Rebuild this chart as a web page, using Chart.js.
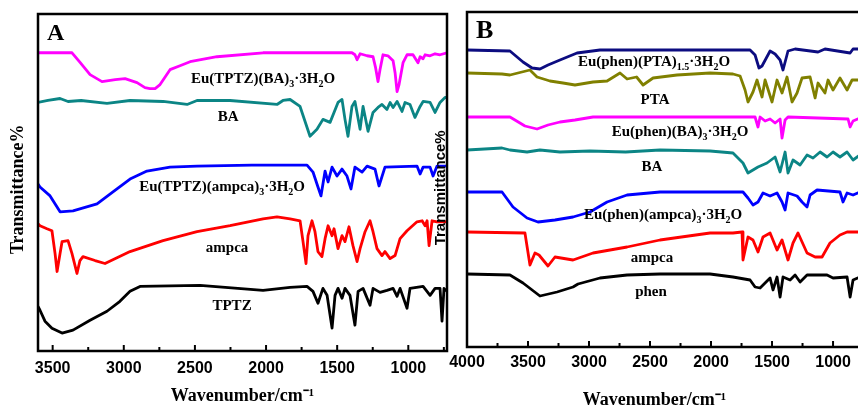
<!DOCTYPE html>
<html lang="en">
<head>
<meta charset="UTF-8" />
<title>FTIR spectra A / B</title>
<style>
  html, body { margin: 0; padding: 0; background: #fff; overflow: hidden; width: 858px; height: 405px; }
  canvas { position: absolute; top: 0; }
  #chartA { left: 0; }
  #chartB { left: 420px; }
</style>
</head>
<body>
<canvas id="chartA" width="452" height="405"></canvas>
<canvas id="chartB" width="445" height="409"></canvas>

<script src="https://cdn.jsdelivr.net/npm/chart.js"></script>
<script>
  const SANS = "'Liberation Sans', Arial, sans-serif";
  const SERIF = "'Liberation Serif', 'Times New Roman', serif";

  // ---- panel A (wavenumber, offset transmittance in a.u.) ----
  const ticksA = [3500, 3250, 3000, 2750, 2500, 2250, 2000, 1750, 1500, 1250, 1000, 750];

  const aEuBA_x = [3603, 3364, 3306, 3237, 3153, 3060, 2991, 2907, 2851, 2816, 2780, 2745, 2675, 2605, 2534, 2345, 2021, 1396, 1375, 1360, 1339, 1290, 1248, 1230, 1213, 1199, 1185, 1178, 1143, 1107, 1093, 1079, 1065, 1037, 1009, 967, 932, 917, 896, 882, 847, 812, 777, 728];
  const aEuBA_y = [300, 300, 290, 278, 271, 273, 274, 270, 265, 264, 264, 268, 283, 287, 291, 296, 300, 300, 298, 293, 299, 297, 296, 285, 271, 283, 293, 298, 297, 292, 280, 261, 268, 290, 298, 298, 290, 296, 294, 298, 297, 299, 298, 300];

  const aBA_x = [3603, 3533, 3448, 3392, 3300, 3118, 2956, 2724, 2555, 2485, 2253, 1923, 1881, 1831, 1761, 1691, 1642, 1600, 1550, 1494, 1466, 1445, 1424, 1396, 1375, 1339, 1318, 1283, 1248, 1213, 1185, 1150, 1128, 1107, 1079, 1044, 1023, 988, 953, 917, 896, 847, 812, 777, 742, 728];
  const aBA_y = [250, 252, 254, 251, 252, 249, 252, 251, 248, 252, 252, 248, 252, 253, 246, 216, 223, 233, 230, 250, 253, 233, 216, 246, 251, 223, 246, 221, 240, 245, 248, 243, 250, 245, 251, 241, 250, 248, 235, 246, 251, 250, 240, 250, 255, 255];

  const aEuAmpca_x = [3603, 3589, 3518, 3448, 3357, 3188, 3076, 2956, 2837, 2675, 2485, 2100, 1712, 1670, 1635, 1614, 1585, 1564, 1536, 1501, 1466, 1431, 1403, 1375, 1325, 1290, 1234, 1206, 1164, 939, 917, 896, 847, 826, 798, 728];
  const aEuAmpca_y = [168, 165, 156, 140, 141, 148, 160, 173, 181, 185, 186, 187, 187, 180, 165, 156, 181, 170, 185, 176, 183, 176, 163, 185, 180, 186, 183, 166, 185, 186, 178, 185, 185, 176, 186, 186];

  const aAmpca_x = [3603, 3589, 3540, 3505, 3483, 3469, 3448, 3434, 3392, 3364, 3329, 3308, 3287, 3202, 3132, 2956, 2724, 2485, 2253, 2021, 1923, 1831, 1761, 1740, 1719, 1705, 1677, 1656, 1635, 1607, 1585, 1564, 1536, 1522, 1494, 1466, 1445, 1417, 1389, 1360, 1339, 1304, 1269, 1248, 1220, 1185, 1164, 1128, 1093, 1058, 1009, 939, 903, 882, 868, 854, 833, 798, 728];
  const aAmpca_y = [128, 126, 123, 121, 98, 80, 98, 110, 111, 98, 78, 91, 95, 91, 88, 100, 111, 120, 126, 133, 135, 133, 131, 110, 88, 116, 131, 120, 100, 95, 113, 126, 116, 123, 103, 116, 110, 125, 106, 90, 103, 120, 131, 120, 103, 96, 100, 93, 96, 113, 121, 130, 131, 126, 131, 106, 131, 130, 130];

  const aTPTZ_x = [3603, 3589, 3554, 3505, 3434, 3357, 3237, 3118, 3027, 2956, 2886, 2464, 2021, 1831, 1712, 1670, 1635, 1600, 1571, 1536, 1515, 1494, 1466, 1445, 1410, 1375, 1353, 1318, 1269, 1248, 1199, 1150, 1107, 1079, 1058, 1009, 988, 896, 847, 812, 777, 763, 749, 728];
  const aTPTZ_y = [45, 41, 30, 23, 18, 21, 31, 40, 50, 60, 65, 66, 61, 64, 65, 60, 48, 63, 56, 23, 56, 63, 53, 63, 56, 26, 60, 63, 46, 63, 59, 61, 63, 55, 63, 43, 63, 65, 56, 63, 63, 30, 63, 60];

  const labelsA = ['Eu(TPTZ)(BA)_{3}·3H_{2}O', 'BA', 'Eu(TPTZ)(ampca)_{3}·3H_{2}O', 'ampca', 'TPTZ'];
  const labelsA_x = [2021, 2267, 2309, 2274, 2239];
  const labelsA_y = [273, 235, 165, 103, 45];

  // ---- panel B ----
  const ticksB = [4000, 3750, 3500, 3250, 3000, 2750, 2500, 2250, 2000, 1750, 1500, 1250, 1000];

  const bEuPTA_x = [4000, 3648, 3541, 3467, 3402, 3336, 3238, 3098, 2910, 1680, 1639, 1607, 1582, 1516, 1475, 1434, 1410, 1369, 1311, 1123, 1066, 860, 836, 779];
  const bEuPTA_y = [297, 296, 285, 279, 278, 282, 287, 294, 297, 297, 292, 279, 281, 296, 293, 287, 277, 296, 298, 295, 298, 294, 298, 298];

  const bPTA_x = [4000, 3713, 3648, 3484, 3426, 3320, 3213, 3115, 2967, 2852, 2746, 2688, 2610, 2557, 2475, 2279, 2008, 1820, 1762, 1721, 1697, 1656, 1623, 1582, 1557, 1500, 1459, 1418, 1377, 1336, 1295, 1254, 1188, 1147, 1123, 1066, 1041, 1000, 943, 885, 844, 779];
  const bPTA_y = [274, 273, 272, 277, 270, 266, 264, 262, 265, 266, 274, 268, 270, 262, 269, 272, 274, 273, 271, 257, 245, 255, 267, 250, 267, 245, 267, 254, 270, 245, 254, 269, 270, 249, 264, 254, 267, 257, 269, 257, 267, 267];

  const bEuBA_x = [4000, 3648, 3525, 3426, 3336, 3238, 3115, 2967, 1639, 1615, 1598, 1557, 1516, 1475, 1434, 1418, 1393, 1369, 877, 860, 836, 779];
  const bEuBA_y = [230, 230, 221, 218, 222, 225, 227, 230, 230, 220, 230, 226, 228, 224, 228, 209, 227, 230, 228, 220, 226, 229];

  const bBA_x = [4000, 3713, 3648, 3508, 3402, 3238, 2992, 2700, 2418, 2008, 1820, 1738, 1697, 1656, 1615, 1541, 1475, 1434, 1393, 1369, 1328, 1270, 1213, 1164, 1106, 1049, 1000, 943, 885, 836, 779];
  const bBA_y = [197, 199, 197, 195, 197, 195, 196, 195, 197, 196, 194, 184, 174, 177, 180, 184, 190, 175, 195, 174, 187, 182, 192, 189, 195, 190, 195, 190, 195, 187, 192];

  const bEuAmpca_x = [4000, 3713, 3623, 3508, 3418, 3279, 3131, 2992, 2852, 2688, 2418, 1762, 1738, 1697, 1656, 1615, 1574, 1516, 1459, 1418, 1393, 1369, 1295, 1254, 1213, 1188, 1131, 943, 918, 885, 836, 779];
  const bEuAmpca_y = [155, 155, 140, 129, 125, 127, 130, 135, 145, 152, 155, 155, 155, 149, 142, 145, 154, 151, 154, 145, 137, 154, 151, 145, 140, 152, 157, 155, 145, 154, 152, 155];

  const bAmpca_x = [4000, 3525, 3484, 3443, 3410, 3336, 3279, 3131, 2967, 2688, 2418, 2008, 1820, 1746, 1738, 1697, 1656, 1615, 1574, 1516, 1459, 1418, 1369, 1328, 1287, 1213, 1147, 1090, 1025, 943, 885, 836, 779];
  const bAmpca_y = [115, 114, 82, 94, 92, 81, 90, 87, 94, 100, 107, 114, 114, 115, 87, 110, 107, 95, 110, 114, 97, 107, 87, 104, 114, 94, 90, 90, 104, 112, 115, 115, 115];

  const bPhen_x = [4000, 3648, 3541, 3402, 3262, 3131, 3090, 2910, 2688, 2418, 2008, 1820, 1680, 1639, 1598, 1557, 1516, 1492, 1459, 1434, 1410, 1352, 1311, 1270, 1213, 1049, 1000, 885, 860, 836, 779];
  const bPhen_y = [73, 72, 64, 51, 55, 60, 63, 69, 72, 73, 73, 70, 67, 60, 59, 64, 69, 57, 70, 50, 70, 67, 72, 65, 72, 72, 69, 70, 50, 67, 70];

  const labelsB = ['Eu(phen)(PTA)_{1.5}·3H_{2}O', 'PTA', 'Eu(phen)(BA)_{3}·3H_{2}O', 'BA', 'Eu(phen)(ampca)_{3}·3H_{2}O', 'ampca', 'phen'];
  const labelsB_x = [2467, 2459, 2254, 2484, 2393, 2484, 2492];
  const labelsB_y = [285, 247, 215, 180, 132, 89, 55];

  // ---- helpers ----
  function line(label, xs, ys, color) {
    return {
      label,
      data: xs.map((x, i) => ({ x, y: ys[i] })),
      borderColor: color,
      borderWidth: 2.8,
      borderJoinStyle: 'round',
      pointRadius: 0,
      tension: 0,
      fill: false
    };
  }

  // text with _{sub} parts
  function drawRich(ctx, txt, cx, cy) {
    const parts = txt.split(/_\{([^}]*)\}/);
    const big = `bold 15px ${SERIF}`, small = `bold 10px ${SERIF}`;
    let w = 0;
    parts.forEach((p, i) => { ctx.font = i % 2 ? small : big; w += ctx.measureText(p).width; });
    let x = cx - w / 2;
    ctx.textAlign = 'left';
    ctx.textBaseline = 'middle';
    parts.forEach((p, i) => {
      ctx.font = i % 2 ? small : big;
      ctx.fillText(p, x, i % 2 ? cy + 5 : cy);
      x += ctx.measureText(p).width;
    });
  }

  const framePlugin = {
    id: 'frame',
    afterDraw(chart, args, opts) {
      const { ctx, chartArea: a } = chart;
      const xs = chart.scales.x, ys = chart.scales.y;
      ctx.save();
      ctx.strokeStyle = '#000';
      ctx.fillStyle = '#000';
      ctx.lineWidth = 2.5;
      ctx.strokeRect(a.left, a.top, a.right - a.left, a.bottom - a.top);
      // inward tick marks
      ctx.lineWidth = 2;
      xs.ticks.forEach(t => {
        const px = xs.getPixelForValue(t.value);
        const len = t.value % 500 === 0 ? 6 : 4;
        ctx.beginPath();
        ctx.moveTo(px, a.bottom);
        ctx.lineTo(px, a.bottom - len);
        ctx.stroke();
      });
      // panel letter
      ctx.font = `bold ${opts.letterSize}px ${SERIF}`;
      ctx.textAlign = 'left';
      ctx.textBaseline = 'alphabetic';
      ctx.fillText(opts.letter, a.left + 9, a.top + 26);
      // curve labels
      opts.labels.forEach((txt, i) => {
        drawRich(ctx, txt, xs.getPixelForValue(opts.lx[i]), ys.getPixelForValue(opts.ly[i]));
      });
      ctx.restore();
    }
  };

  function xScale(min, max, ticks, titleText, tickPad, titlePad) {
    return {
      type: 'linear',
      reverse: true,
      min, max,
      grid: { display: false, drawTicks: false },
      border: { display: false },
      afterBuildTicks: s => { s.ticks = ticks.map(v => ({ value: v })); },
      ticks: {
        autoSkip: false,
        maxRotation: 0,
        padding: tickPad,
        color: '#000',
        font: { family: SANS, weight: 'bold', size: 16, lineHeight: 1.2 },
        callback: v => (v % 500 === 0 ? String(v) : '')
      },
      title: {
        display: true,
        text: titleText,
        color: '#000',
        padding: titlePad,
        font: { family: SERIF, weight: 'bold', size: 18, lineHeight: 1 }
      }
    };
  }

  function yScale(max, titleText, family, size, titlePad) {
    return {
      min: 0, max,
      grid: { display: false, drawTicks: false },
      border: { display: false },
      ticks: { display: false },
      title: {
        display: true,
        text: titleText,
        color: '#000',
        padding: titlePad,
        font: { family, weight: 'bold', size, lineHeight: 1 }
      }
    };
  }

  Chart.defaults.color = '#000';

  new Chart(document.getElementById('chartA'), {
    type: 'line',
    data: {
      datasets: [
        line('Eu(TPTZ)(BA)3·3H2O', aEuBA_x, aEuBA_y, '#ff00ff'),
        line('BA', aBA_x, aBA_y, '#0b8585'),
        line('Eu(TPTZ)(ampca)3·3H2O', aEuAmpca_x, aEuAmpca_y, '#0000ff'),
        line('ampca', aAmpca_x, aAmpca_y, '#ff0000'),
        line('TPTZ', aTPTZ_x, aTPTZ_y, '#000000')
      ]
    },
    options: {
      responsive: false,
      animation: false,
      layout: { padding: { left: 0, top: 14, right: 5, bottom: 0 } },
      scales: {
        x: xScale(728, 3603, ticksA, 'Wavenumber/cm⁻¹', 8, { top: 0.8, bottom: 0 }),
        y: yScale(339, 'Transmittance%   ', SERIF, 18, { top: 9, bottom: 11 })
      },
      plugins: {
        legend: { display: false },
        tooltip: { enabled: false },
        frame: { letter: 'A', letterSize: 24, labels: labelsA, lx: labelsA_x, ly: labelsA_y }
      }
    },
    plugins: [framePlugin]
  });

  new Chart(document.getElementById('chartB'), {
    type: 'line',
    data: {
      datasets: [
        line('Eu(phen)(PTA)1.5·3H2O', bEuPTA_x, bEuPTA_y, '#0c0c80'),
        line('PTA', bPTA_x, bPTA_y, '#808000'),
        line('Eu(phen)(BA)3·3H2O', bEuBA_x, bEuBA_y, '#ff00ff'),
        line('BA', bBA_x, bBA_y, '#0b8585'),
        line('Eu(phen)(ampca)3·3H2O', bEuAmpca_x, bEuAmpca_y, '#0000ff'),
        line('ampca', bAmpca_x, bAmpca_y, '#ff0000'),
        line('phen', bPhen_x, bPhen_y, '#000000')
      ]
    },
    options: {
      responsive: false,
      animation: false,
      layout: { padding: { left: 0, top: 12, right: 5, bottom: 0 } },
      scales: {
        x: xScale(779, 4000, ticksB, 'Wavenumber/cm⁻¹    ', 6, { top: 12.8, bottom: 0 }),
        y: yScale(335, 'Transmittance%    ', SANS, 15, { top: 13.5, bottom: 18.5 })
      },
      plugins: {
        legend: { display: false },
        tooltip: { enabled: false },
        frame: { letter: 'B', letterSize: 26, labels: labelsB, lx: labelsB_x, ly: labelsB_y }
      }
    },
    plugins: [framePlugin]
  });
</script>
</body>
</html>
